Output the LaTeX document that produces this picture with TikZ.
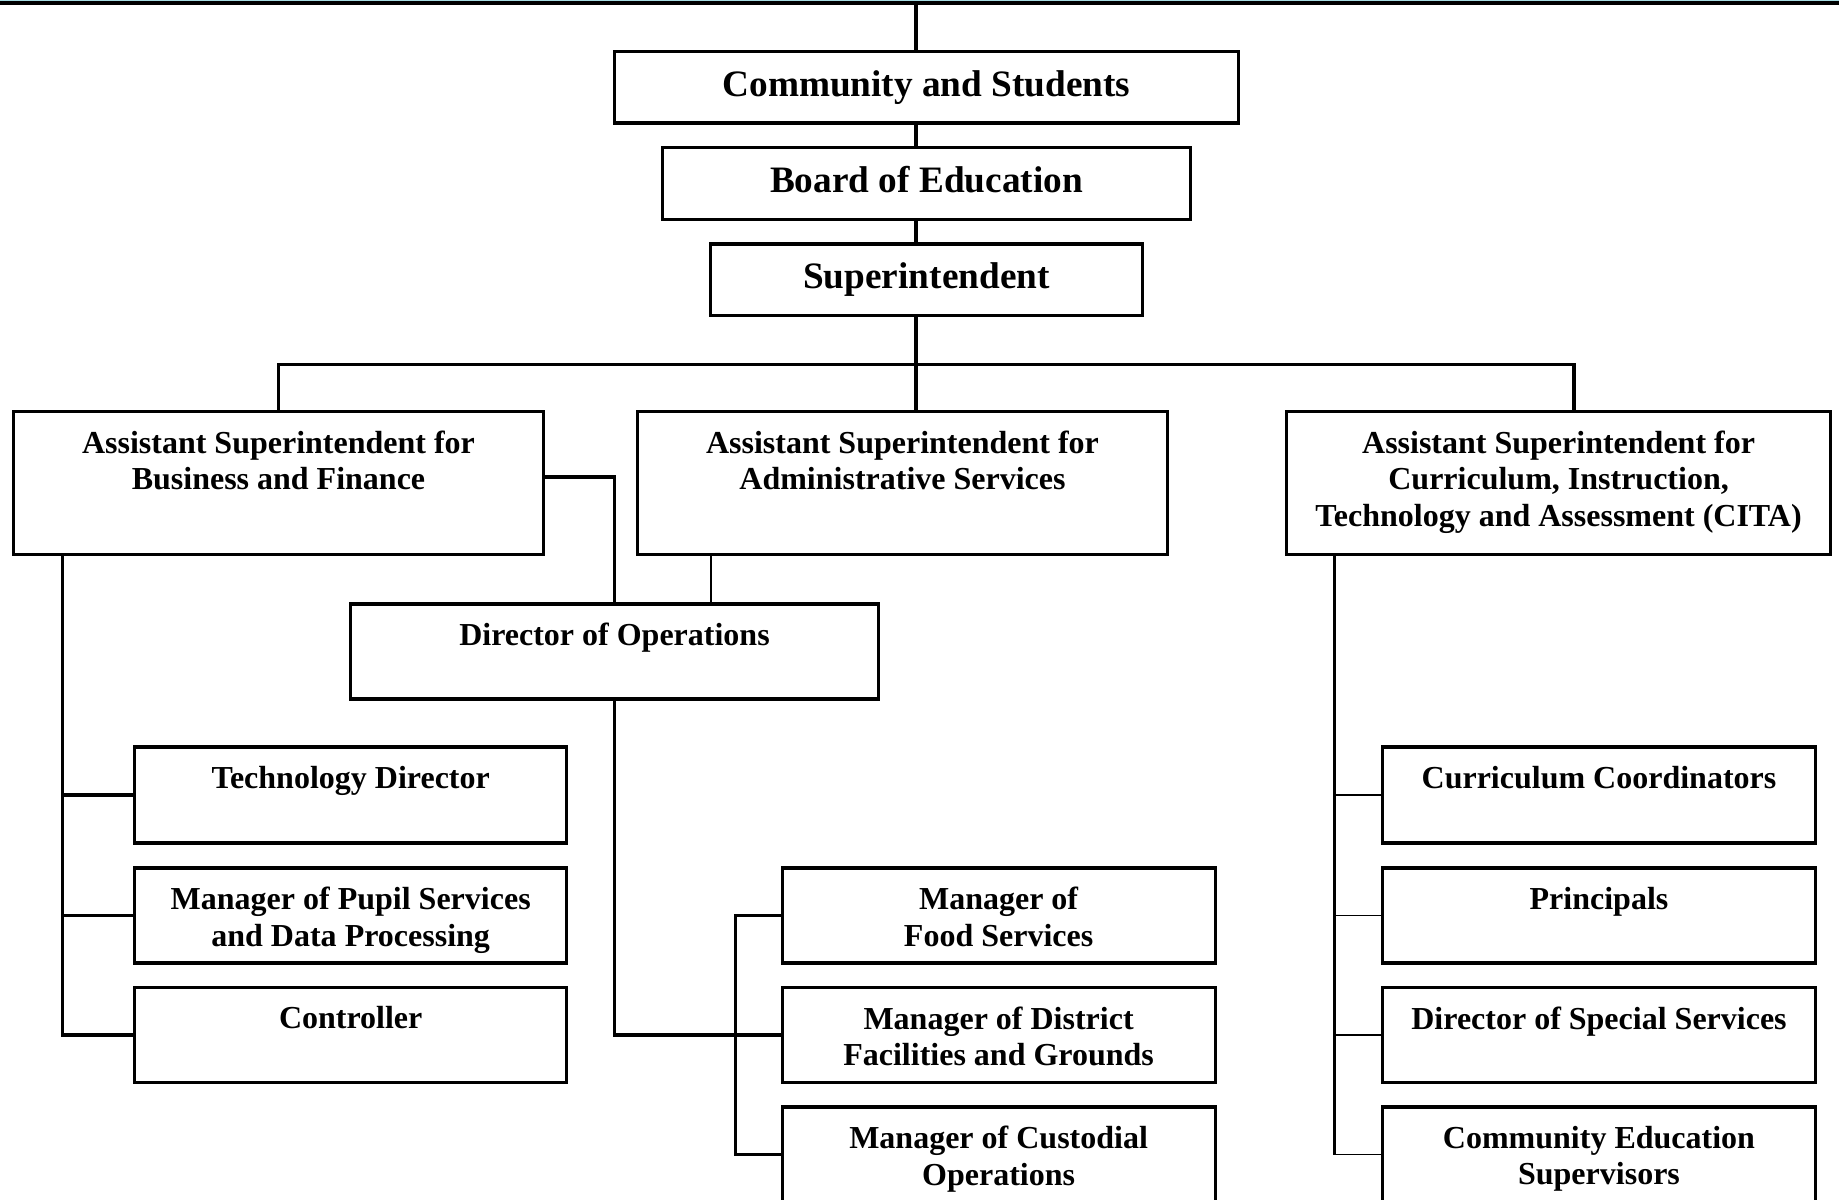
\documentclass[tikz,border=0pt]{standalone}
\usepackage{fontspec}
\setmainfont{Liberation Serif}
\definecolor{topcyan}{HTML}{A6DCE3}
\begin{document}
\begin{tikzpicture}[x=0.01cm,y=-0.01cm,
  box/.style={draw, line width=0.9pt, rectangle, inner sep=0pt, fill=white},
  title/.style={box, font=\fontsize{10.6}{12}\selectfont\bfseries, text height=0.75em, text depth=0.25em},
  conn/.style={line width=0.9pt},
  thinconn/.style={line width=0.5pt},
  lab/.style={anchor=north, align=center, inner sep=0pt, yshift=-0.2cm, font=\fontsize{9.1}{10.4}\selectfont\bfseries}
]
\useasboundingbox (0,0) rectangle (1839,1200);
\fill[topcyan] (0,0) rectangle (1839,1.5);
\fill[black] (0,1.5) rectangle (1839,4.5);

% top chain
\node[title, minimum width=6.24cm, minimum height=0.714cm] (cs) at (926.5,87.3) {Community and Students};
\node[title, minimum width=5.28cm, minimum height=0.715cm] (boe) at (926.5,183.5) {Board of Education};
\node[title, minimum width=4.316cm, minimum height=0.715cm] (sup) at (926.5,279.8) {Superintendent};

% assistant superintendents
\node[box, minimum width=5.29cm, minimum height=1.43cm,
  label={[lab]north:{Assistant Superintendent for\\Business and Finance}}] (abf) at (278.5,483) {};
\node[box, minimum width=5.29cm, minimum height=1.43cm,
  label={[lab]north:{Assistant Superintendent for\\Administrative Services}}] (aas) at (902.5,483) {};
\node[box, minimum width=5.44cm, minimum height=1.43cm,
  label={[lab]north:{Assistant Superintendent for\\Curriculum, Instruction,\\Technology and Assessment (CITA)}}] (acita) at (1558.6,483) {};

\node[box, minimum width=5.277cm, minimum height=0.95cm,
  label={[lab]north:{Director of Operations}}] (dop) at (614.5,651.5) {};

% left column
\node[box, minimum width=4.316cm, minimum height=0.96cm,
  label={[lab]north:{Technology Director}}] (tech) at (350.7,795) {};
\node[box, minimum width=4.316cm, minimum height=0.95cm,
  label={[lab]north:{Manager of Pupil Services\\and Data Processing}}] (pupil) at (350.7,915.5) {};
\node[box, minimum width=4.316cm, minimum height=0.95cm,
  label={[lab]north:{Controller}}] (ctrl) at (350.7,1035) {};

% middle column
\node[box, minimum width=4.328cm, minimum height=0.95cm,
  label={[lab]north:{Manager of\\Food Services}}] (food) at (998.6,915.5) {};
\node[box, minimum width=4.328cm, minimum height=0.95cm,
  label={[lab]north:{Manager of District\\Facilities and Grounds}}] (dist) at (998.6,1035) {};
\node[box, minimum width=4.328cm, minimum height=0.95cm,
  label={[lab]north:{Manager of Custodial\\Operations}}] (cust) at (998.6,1154.5) {};

% right column
\node[box, minimum width=4.33cm, minimum height=0.96cm,
  label={[lab]north:{Curriculum Coordinators}}] (curr) at (1599,795) {};
\node[box, minimum width=4.33cm, minimum height=0.95cm,
  label={[lab]north:{Principals}}] (princ) at (1599,915.5) {};
\node[box, minimum width=4.33cm, minimum height=0.95cm,
  label={[lab]north:{Director of Special Services}}] (dss) at (1599,1035) {};
\node[box, minimum width=4.33cm, minimum height=0.95cm,
  label={[lab]north:{Community Education\\Supervisors}}] (ces) at (1599,1154.5) {};

% helper coordinates
\coordinate (topc) at (916,4.5);
\coordinate (spine) at (916,0);
\coordinate (bar) at (0,364.7);
\coordinate (barR) at (1574,364.7);
\coordinate (bfy) at (0,477);
\coordinate (adx) at (710.7,0);
\coordinate (ftx) at (735.3,0);
\coordinate (ltx) at (62.2,0);
\coordinate (rtx) at (1334.6,0);

% connectors
\draw[conn] (topc) -- (spine |- cs.north);
\draw[conn] (spine |- cs.south) -- (spine |- boe.north);
\draw[conn] (spine |- boe.south) -- (spine |- sup.north);
\draw[conn] (spine |- sup.south) -- (spine |- bar);
\draw[conn] (abf.north) -- (abf.north |- bar) -- (barR) -- (barR |- acita.north);
\draw[conn] (spine |- bar) -- (spine |- aas.north);

\draw[conn] (abf.east |- bfy) -| (dop.north);
\draw[thinconn] (adx |- aas.south) -- (adx |- dop.north);

\draw[conn] (dop.south) |- (dist.west);
\draw[conn] (food.west) -- (ftx |- food.west) -- (ftx |- cust.west) -- (cust.west);

\draw[conn] (ltx |- abf.south) -- (ltx |- ctrl.west) -- (ctrl.west);
\draw[conn] (ltx |- tech.west) -- (tech.west);
\draw[conn] (ltx |- pupil.west) -- (pupil.west);

\draw[conn] (rtx |- acita.south) -- (rtx |- ces.west);
\draw[thinconn] (rtx |- curr.west) -- (curr.west);
\draw[thinconn] (rtx |- princ.west) -- (princ.west);
\draw[thinconn] (rtx |- dss.west) -- (dss.west);
\draw[thinconn] (rtx |- ces.west) -- (ces.west);
\end{tikzpicture}
\end{document}
